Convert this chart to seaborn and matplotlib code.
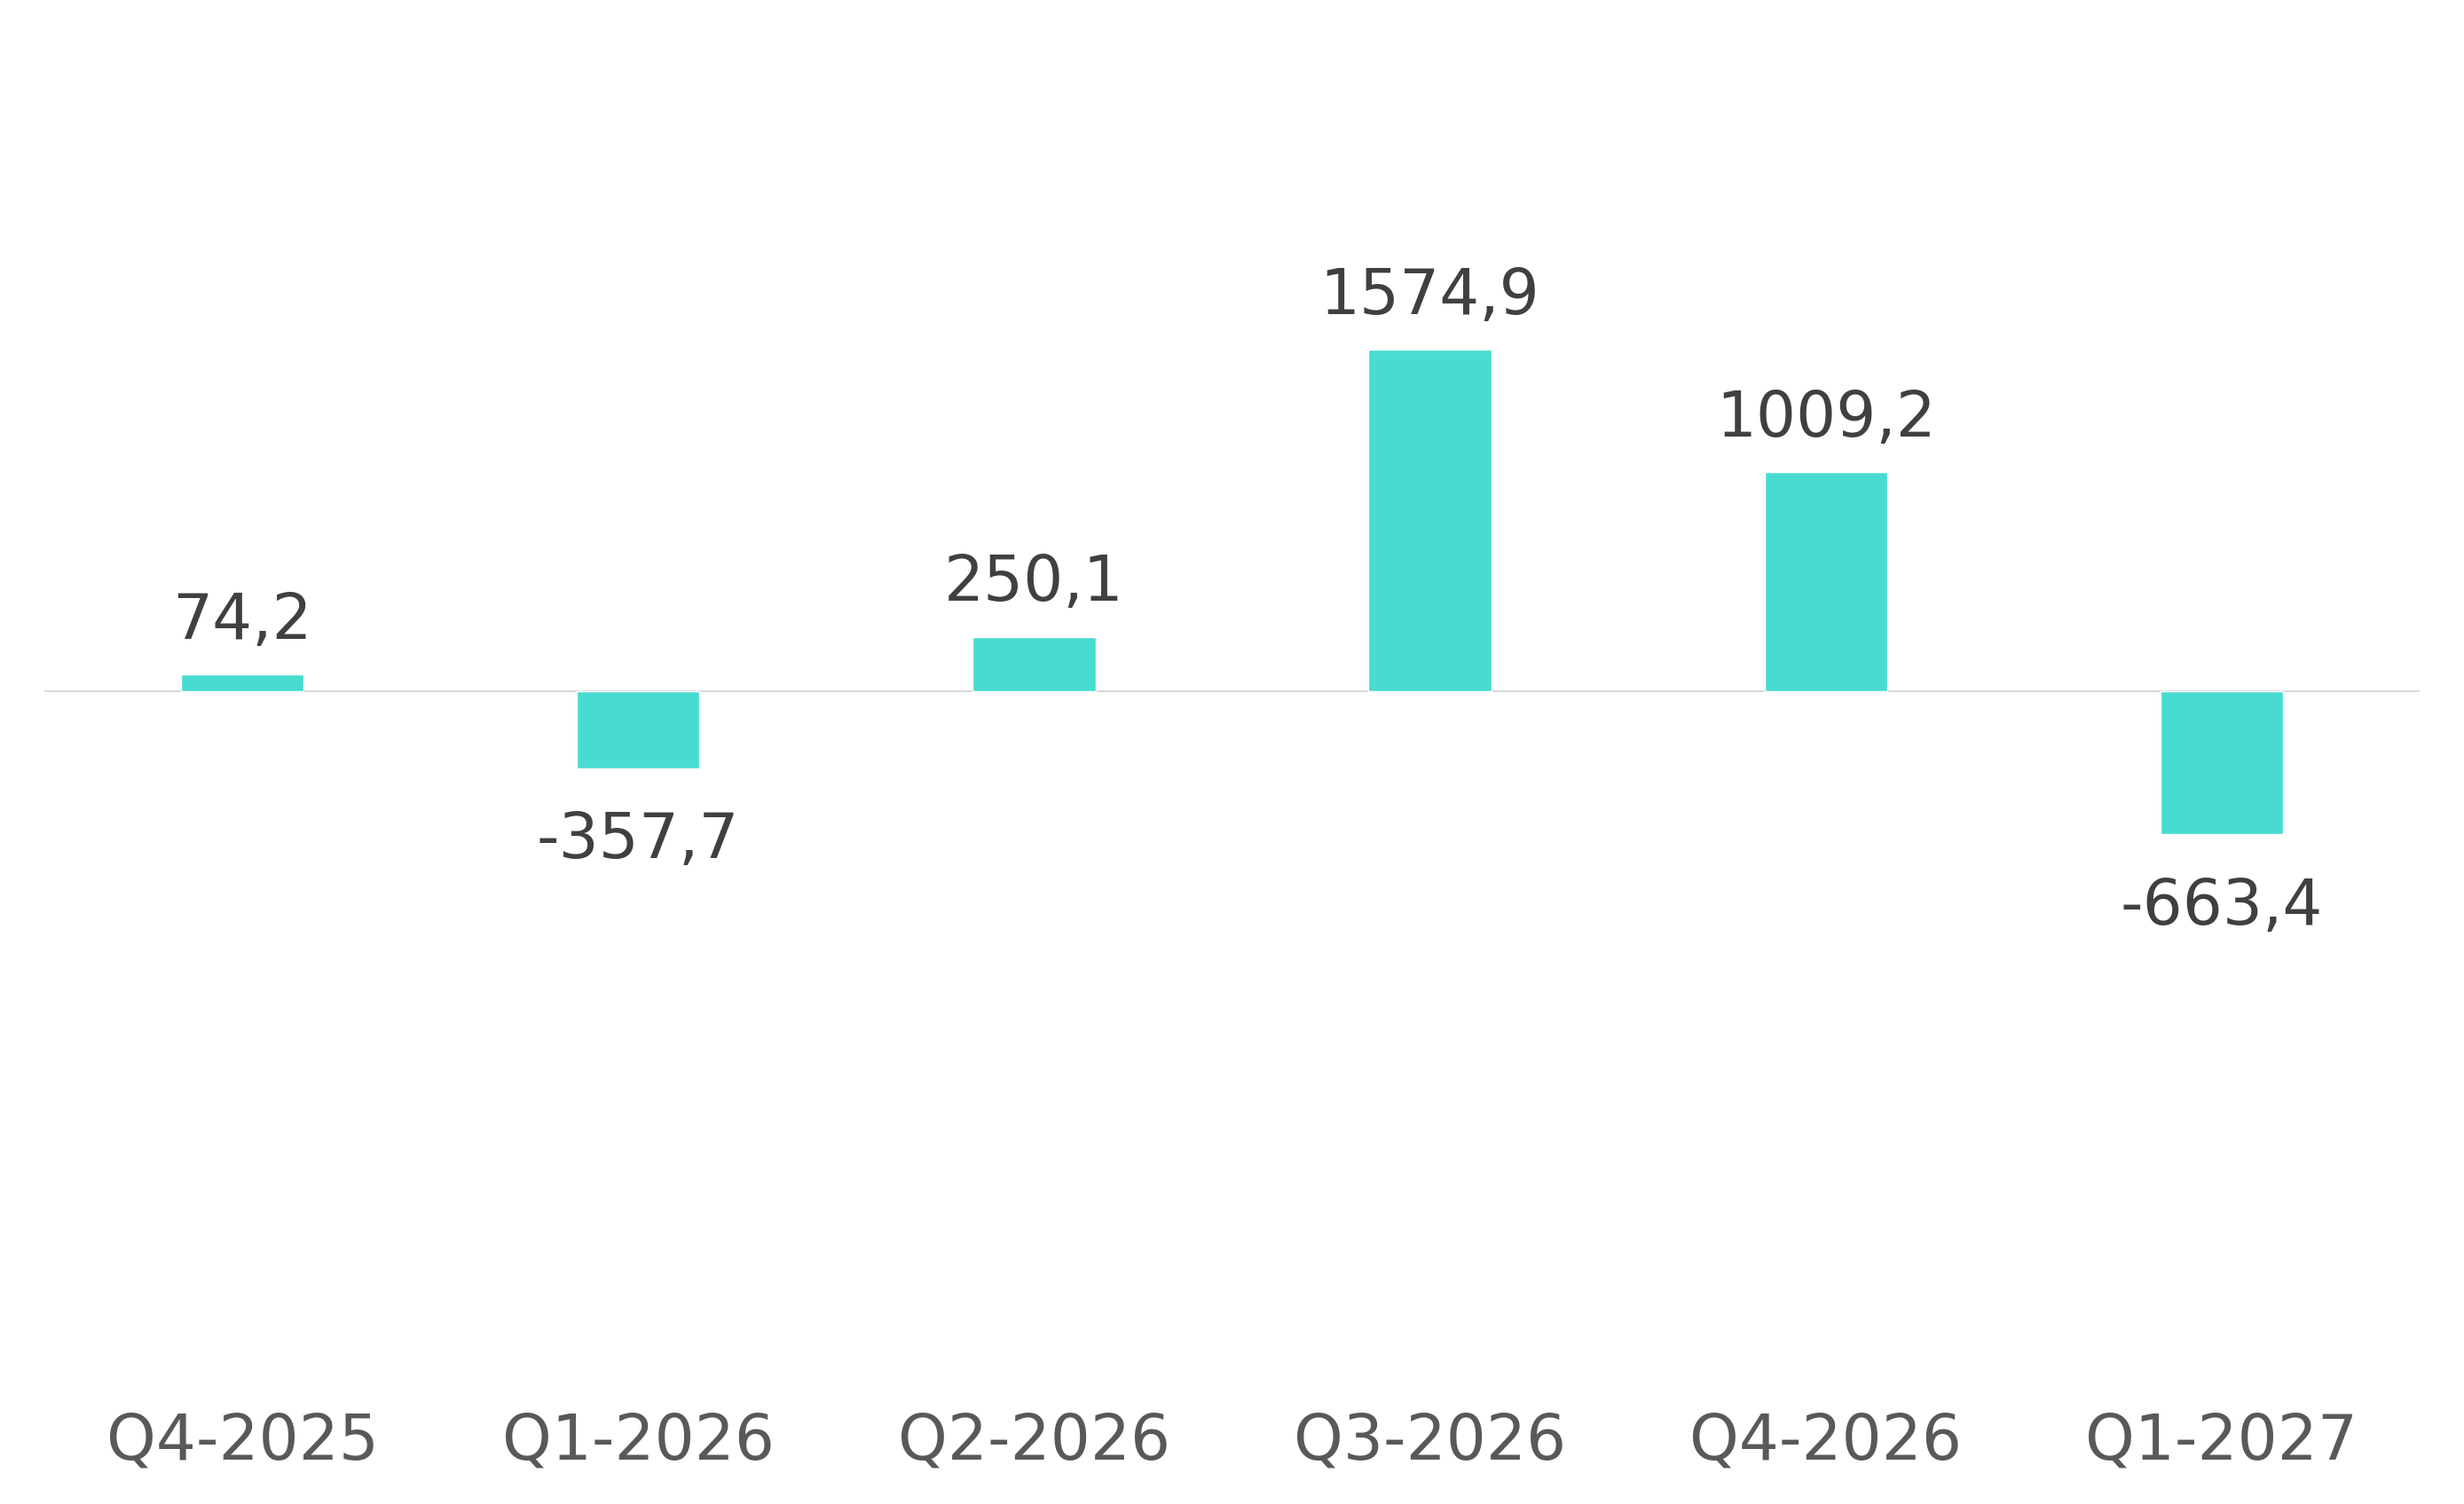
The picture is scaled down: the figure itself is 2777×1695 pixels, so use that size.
import matplotlib
matplotlib.use('Agg')
import pandas as pd
import matplotlib.pyplot as plt
import seaborn as sns

# Data
quarters = ['Q4-2025', 'Q1-2026', 'Q2-2026', 'Q3-2026', 'Q4-2026', 'Q1-2027']
values = [74.2, -357.7, 250.1, 1574.9, 1009.2, -663.4]

df = pd.DataFrame({'quarter': quarters, 'value': values})

sns.set_style('white')
plt.rcParams['font.family'] = ['DejaVu Sans']

fig = plt.figure(figsize=(27.77, 16.95), dpi=100)
ax = fig.add_axes([0.018, 1 - 1510 / 1695, 0.964, 1463 / 1695])

sns.barplot(data=df, x='quarter', y='value', color='#48DCD0', saturation=1,
            width=0.31, ax=ax, zorder=2)

ax.axhline(0, color='#D9D9D9', linewidth=1.6, zorder=1)

# Value labels above/below the bars
for i, v in enumerate(values):
    label = f'{v:.1f}'.replace('.', ',')
    if v >= 0:
        ax.annotate(label, (i, v), xytext=(0, 29), textcoords='offset points',
                    ha='center', va='baseline', fontsize=51, color='#404040')
    else:
        ax.annotate(label, (i, v), xytext=(0, -73), textcoords='offset points',
                    ha='center', va='baseline', fontsize=51, color='#404040')

ax.set_xlim(-0.5, 5.5)
ax.set_ylim(-3000, 3000)
ax.set_xlabel('')
ax.set_ylabel('')
ax.set_yticks([])
ax.tick_params(axis='x', length=0, pad=58, labelsize=51, labelcolor='#595959')
for s in ax.spines.values():
    s.set_visible(False)

fig.savefig('out.png', dpi=100, facecolor='white')
